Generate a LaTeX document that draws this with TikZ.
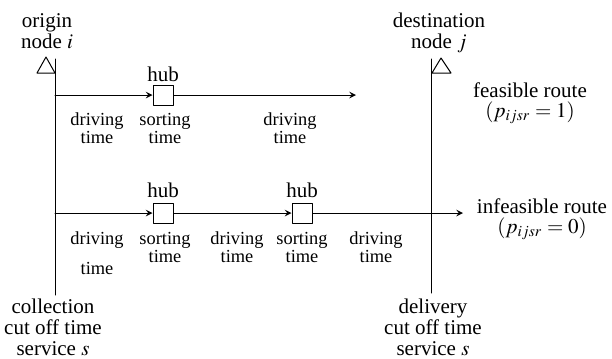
\documentclass[tikz,border=0pt]{standalone}
\usepackage{mathptmx}
\usepackage{fontspec}
\setmainfont{Liberation Serif}
\usetikzlibrary{positioning}
\begin{document}
\begin{tikzpicture}[x=0.5pt, y=-0.5pt, line join=round, line cap=round, >=stealth, line width=0.5pt]
\tikzset{every node/.style={inner sep=0pt, align=center, font=\fontsize{10.5}{10.5}\selectfont},
  txt/.style={anchor=base},
  route/.style={anchor=base, font=\fontsize{10.5}{9.6}\selectfont},
  lbl/.style={anchor=base, font=\fontsize{9.2}{8.6}\selectfont},
  hubbox/.style={draw, minimum size=10pt, fill=white}}
\useasboundingbox (0,0) rectangle (612,359);
\def\xo{55}\def\xd{431}\def\ya{95}\def\yb{213}
% cut off times
\coordinate (otop) at (\xo,59); \coordinate (obot) at (\xo,295);
\coordinate (dtop) at (\xd,59); \coordinate (dbot) at (\xd,293);
\draw (otop)--(obot); \draw (dtop)--(dbot);
\draw (37,73)--(46,57)--(\xo,73)--cycle;
\draw (\xd+1,73)--(\xd+10,58)--(\xd+20,73)--cycle;
\node[txt] (orig) at (47,48) {origin\\node $i$};
\node[txt] (dest) at (439,48) {destination\\node $j$};
\node[txt] (coll) at (53,355) {collection\\cut off time\\service $s$};
\node[txt] (deli) at (433,355) {delivery\\cut off time\\service $s$};
% feasible route
\coordinate (sa) at (\xo,\ya); \coordinate (ea) at (356,\ya);
\node[hubbox] (ha) at (163,\ya) {};
\node[txt] at (163,81) {hub};
\draw[->] (sa)--(ha); \draw[->] (ha)--(ea);
\node[lbl] (da1) at (97,143) {driving\\time};
\node[lbl] (sa1) at (165,143) {sorting\\time};
\node[lbl] (da2) at (290,143) {driving\\time};
\node[route] (feas) at (530,117) {feasible route\\$(p_{ijsr}=1)$};
% infeasible route
\coordinate (sb) at (\xo,\yb); \coordinate (eb) at (463,\yb);
\foreach \n/\x in {hb/163,hc/302}{
  \node[hubbox] (\n) at (\x,\yb) {};
  \node[txt] at (\x,197) {hub};}
\draw[->] (sb)--(hb); \draw[->] (hb)--(hc); \draw[->] (hc)--(eb);
\node[lbl] (db1) at (97,274) {driving\\[6pt]time};
\node[lbl] (sb1) at (165,262) {sorting\\time};
\node[lbl] (db2) at (237,262) {driving\\time};
\node[lbl] (sb2) at (302,262) {sorting\\time};
\node[lbl] (db3) at (376,262) {driving\\time};
\node[route] (infeas) at (542,233) {infeasible route\\$(p_{ijsr}=0)$};
\end{tikzpicture}
\end{document}
